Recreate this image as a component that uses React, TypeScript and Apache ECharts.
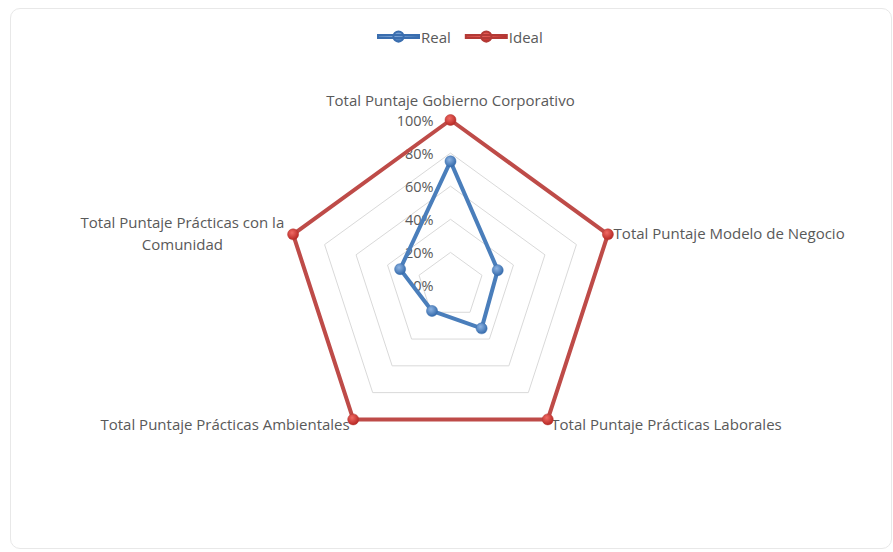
import React, { useEffect, useRef } from "react";
import * as echarts from "echarts";

// Listed in ECharts' (counter-clockwise) order so the chart reads clockwise like the reference
const indicators = [
  "Total Puntaje Gobierno Corporativo",
  "Total Puntaje Prácticas con la\nComunidad",
  "Total Puntaje Prácticas Ambientales",
  "Total Puntaje Prácticas Laborales",
  "Total Puntaje Modelo de Negocio",
];
const realValues = [75, 32, 19, 32, 30];
const idealValues = [100, 100, 100, 100, 100];
const seriesNames = ["Real", "Ideal"];
const maxValue = 100;

export default function App() {
  const ref = useRef<HTMLDivElement>(null);
  useEffect(() => {
    if (!ref.current) return;
    const chart = echarts.init(ref.current, null, { renderer: "svg" });
    const font = "Open Sans";
    const textColor = "#595959";
    const fs = 15;
    const icon =
      "path://M0,4.5 L40,4.5 L40,7.5 L0,7.5 Z M20,1 A5,5 0 1 1 20,11 A5,5 0 1 1 20,1 Z";
    chart.setOption({
      animation: false,
      legend: {
        data: seriesNames.map((n) => ({ name: n, icon })),
        top: 24,
        left: 372,
        itemWidth: 41,
        itemHeight: 12,
        itemGap: 14,
        textStyle: { color: textColor, fontFamily: font, fontSize: fs, padding: [0, 0, 0, -3] },
      },
      radar: {
        center: [450.5, 285.5],
        radius: 165.5,
        startAngle: 90,
        shape: "polygon",
        splitNumber: 5,
        nameGap: 6,
        axisName: {
          color: textColor,
          fontFamily: font,
          fontSize: fs,
          formatter: (name: string) => {
            if (name.indexOf("\n") >= 0) {
              return name
                .split("\n")
                .map((l) => "{c|" + l + "}")
                .join("\n");
            }
            return name;
          },
          rich: {
            c: {
              width: 210,
              align: "center",
              lineHeight: 22,
              color: textColor,
              fontFamily: font,
              fontSize: fs,
            },
          },
        },
        indicator: indicators.map((name, i) => ({
          name,
          min: 0,
          max: maxValue,
          ...(i === 0
            ? {
                nameGap: 13,
                axisLabel: {
                  show: true,
                  formatter: "{value}%",
                  color: textColor,
                  fontFamily: font,
                  fontSize: 14.5,
                  margin: 17,
                },
              }
            : {}),
        })),
        axisLine: { show: false },
        axisTick: { show: false },
        splitArea: { show: false },
        splitLine: { lineStyle: { color: "#d9d9d9", width: 1 } },
      },
      series: [
        {
          type: "radar",
          symbol: "circle",
          symbolSize: 11,
          data: [
            {
              name: seriesNames[0],
              value: realValues,
              lineStyle: { color: "#4a7ebb", width: 4 },
              itemStyle: {
                color: new echarts.graphic.RadialGradient(0.4, 0.35, 0.7, [
                  { offset: 0, color: "#8db3e2" },
                  { offset: 1, color: "#2f66a8" },
                ]),
                borderColor: "#3a6eaf",
                borderWidth: 0.5,
              },
            },
            {
              name: seriesNames[1],
              value: idealValues,
              lineStyle: { color: "#be4b48", width: 4 },
              itemStyle: {
                color: new echarts.graphic.RadialGradient(0.4, 0.35, 0.7, [
                  { offset: 0, color: "#f06a64" },
                  { offset: 1, color: "#b3231f" },
                ]),
                borderColor: "#b33a36",
                borderWidth: 0.5,
              },
            },
          ],
        },
      ],
    });
    return () => chart.dispose();
  }, []);
  return (
    <div style={{ position: "fixed", left: 0, top: 0, width: 893, height: 552, background: "#fff" }}>
      <div
        style={{
          position: "absolute",
          left: 10,
          top: 8,
          width: 882,
          height: 541,
          border: "1px solid #e8e8e8",
          borderRadius: 10,
          boxSizing: "border-box",
        }}
      />
      <div ref={ref} style={{ position: "absolute", left: 0, top: 0, width: 893, height: 552 }} />
    </div>
  );
}
